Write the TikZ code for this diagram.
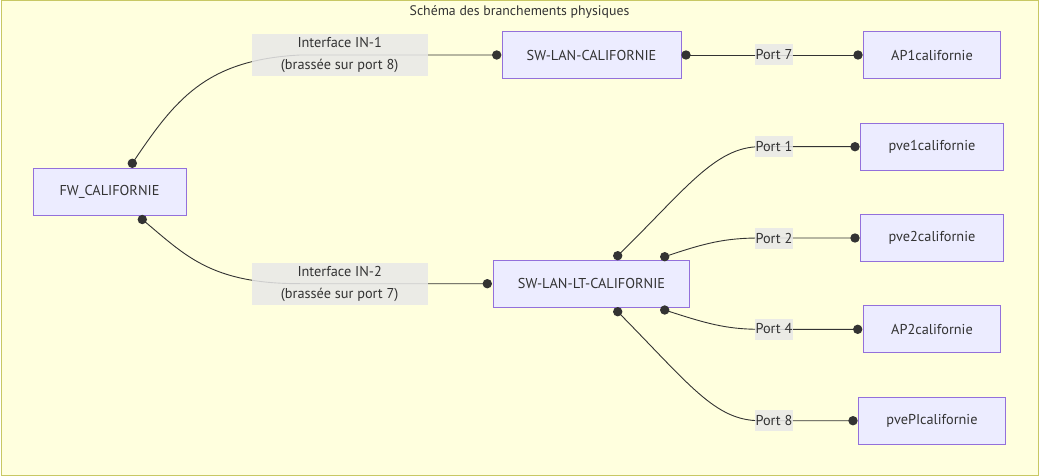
\documentclass[tikz,border=0pt]{standalone}
\usepackage{fontspec}
\setmainfont{PT Sans}
\definecolor{bg}{HTML}{FFFFDE}
\definecolor{frame}{HTML}{C8C864}
\definecolor{boxfill}{HTML}{ECECFF}
\definecolor{boxborder}{HTML}{9370DB}
\definecolor{lblfill}{HTML}{E8E8E8}
\definecolor{edgecol}{HTML}{333333}
\tikzset{
  box/.style={draw=boxborder, fill=boxfill, line width=1pt, minimum height=47pt, inner sep=0pt, font=\fontsize{14.3}{17}\selectfont, text=edgecol},
  lbl/.style={fill=lblfill, fill opacity=0.85, text opacity=1, inner sep=0pt, font=\fontsize{14.3}{17}\selectfont, text=edgecol},
  twolbl/.style={lbl, minimum width=176pt, minimum height=42pt, align=center, font=\fontsize{14.3}{22}\selectfont},
  portlbl/.style={lbl, minimum width=38pt, minimum height=21pt},
  edge/.style={draw=edgecol, line width=0.9pt},
  enddot/.style={fill=edgecol},
}
\begin{document}
\begin{tikzpicture}[x=1pt,y=-1pt]
\useasboundingbox (0,0) rectangle (1039,476);
\draw[draw=frame, fill=bg, line width=1pt] (1,1) rectangle (1038,475);
\node[font=\fontsize{13.8}{16}\selectfont, text=edgecol] (title) at (519.5,12) {Schéma des branchements physiques};

% nodes
\node[box, minimum width=153pt] (fw) at (109.5,192) {FW\_CALIFORNIE};
\node[box, minimum width=179pt] (sw) at (591.5,55) {SW-LAN-CALIFORNIE};
\node[box, minimum width=196pt] (swlt) at (591.5,283.7) {SW-LAN-LT-CALIFORNIE};
\node[box, minimum width=137pt] (ap1) at (932,55) {AP1californie};
\node[box, minimum width=143pt] (pve1) at (932,146.7) {pve1californie};
\node[box, minimum width=143pt] (pve2) at (932,238) {pve2californie};
\node[box, minimum width=137pt] (ap2) at (932,329.3) {AP2californie};
\node[box, minimum width=147pt] (pvepi) at (932,421) {pvePIcalifornie};

% end points
\coordinate (fwT) at (132.3,163.3);
\coordinate (fwB) at (142.3,219.5);
\coordinate (swL) at (496.7,55);
\coordinate (swR) at (686,55);
\coordinate (ap1L) at (858,55);
\coordinate (pve1L) at (855,146.7);
\coordinate (pve2L) at (855,238);
\coordinate (ap2L) at (857.7,329.3);
\coordinate (pvepiL) at (853,420.7);
\coordinate (swltL) at (487.3,283.7);
\coordinate (swltT1) at (617.7,255.7);
\coordinate (swltT2) at (664.7,256.7);
\coordinate (swltB1) at (617.7,311.7);
\coordinate (swltB2) at (664.7,310);

% edges
\draw[edge] (fwT) .. controls (175,100) and (205,60) .. (300,55) -- (swL);
\draw[edge] (fwB) .. controls (185,255) and (210,283.7) .. (300,283.7) -- (swltL);
\draw[edge] (swR) -- (ap1L);
\draw[edge] (swltT1) .. controls (685,190) and (715,146.7) .. (760,146.7) -- (pve1L);
\draw[edge] (swltT2) .. controls (705,243) and (725,238) .. (760,238) -- (pve2L);
\draw[edge] (swltB2) .. controls (705,323) and (725,329.3) .. (760,329.3) -- (ap2L);
\draw[edge] (swltB1) .. controls (690,385) and (715,420.7) .. (760,420.7) -- (pvepiL);

% edge labels
\node[twolbl] (in1) at (339.7,55) {Interface IN-1\\(brassée sur port 8)};
\node[twolbl] (in2) at (339.7,283.7) {Interface IN-2\\(brassée sur port 7)};
\node[portlbl] (p7) at (774,55) {Port 7};
\node[portlbl] (p1) at (774,146.7) {Port 1};
\node[portlbl] (p2) at (774,238) {Port 2};
\node[portlbl] (p4) at (774,329) {Port 4};
\node[portlbl] (p8) at (774,420.7) {Port 8};

% end dots
\foreach \c in {fwT,fwB,swL,swR,ap1L,pve1L,pve2L,ap2L,pvepiL,swltL,swltT1,swltT2,swltB1,swltB2}
  \fill[enddot] (\c) circle (4.7);
\end{tikzpicture}
\end{document}
